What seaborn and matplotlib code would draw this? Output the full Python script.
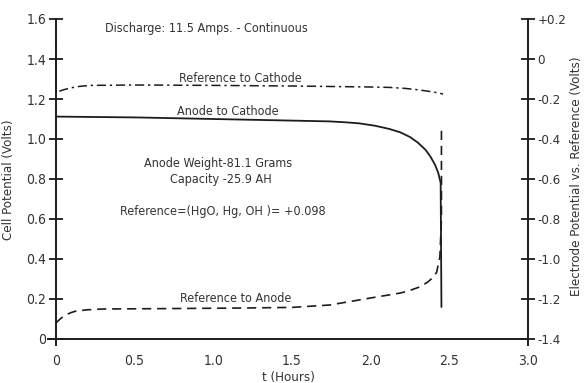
import matplotlib
matplotlib.use("Agg")
import matplotlib.pyplot as plt
import seaborn as sns
import pandas as pd

# ---------------- data ----------------
t_anode_cathode = [0.0, 0.5, 1.0, 1.5, 1.74, 1.85, 1.93, 2.03, 2.12, 2.19, 2.25, 2.30,
                   2.35, 2.38, 2.41, 2.43, 2.445, 2.45]
v_anode_cathode = [1.112, 1.108, 1.100, 1.092, 1.088, 1.083, 1.078, 1.066, 1.050, 1.033,
                   1.010, 0.982, 0.945, 0.912, 0.870, 0.830, 0.780, 0.160]

t_ref_cathode = [0.0, 0.0, 0.04, 0.09, 0.15, 0.22, 0.5, 1.0, 1.5, 2.0, 2.12, 2.22, 2.31, 2.40, 2.46]
v_ref_cathode = [1.50, 1.232, 1.244, 1.255, 1.263, 1.268, 1.270, 1.268, 1.265, 1.260, 1.258,
                 1.253, 1.245, 1.235, 1.225]

t_ref_anode = [0.0, 0.03, 0.06, 0.1, 0.13, 0.2, 0.3, 0.7, 1.2, 1.5, 1.74, 2.0, 2.19, 2.25,
               2.31, 2.36, 2.40, 2.42, 2.44, 2.45, 2.45]
v_ref_anode = [0.080, 0.102, 0.120, 0.133, 0.140, 0.146, 0.150, 0.152, 0.155, 0.158, 0.170,
               0.205, 0.230, 0.243, 0.260, 0.283, 0.310, 0.335, 0.410, 0.600, 1.070]

x_ticks = [0, 0.5, 1.0, 1.5, 2.0, 2.5, 3.0]
x_tick_labels = ["0", "0.5", "1.0", "1.5", "2.0", "2.5", "3.0"]
left_ticks = [0, 0.2, 0.4, 0.6, 0.8, 1.0, 1.2, 1.4, 1.6]
left_tick_labels = ["0", "0.2", "0.4", "0.6", "0.8", "1.0", "1.2", "1.4", "1.6"]
right_ticks = [-1.4, -1.2, -1.0, -0.8, -0.6, -0.4, -0.2, 0.0, 0.2]
right_tick_labels = ["-1.4", "-1.2", "-1.0", "-0.8", "-0.6", "-0.4", "-0.2", "0", "+0.2"]

# ---------------- style ----------------
sns.set_style("white")
plt.rcParams["font.family"] = ["DejaVu Sans"]
plt.rcParams["font.stretch"] = "condensed"
plt.rcParams["axes.unicode_minus"] = False
ink = "#1c1c1c"
txt = "#333333"

fig = plt.figure(figsize=(5.84, 3.83), dpi=100)
ax = fig.add_axes([48 / 584, 1 - 345 / 383, 480 / 584, 330 / 383])

df_ac = pd.DataFrame({"t": t_anode_cathode, "v": v_anode_cathode})
df_rc = pd.DataFrame({"t": t_ref_cathode, "v": v_ref_cathode})
df_ra = pd.DataFrame({"t": t_ref_anode, "v": v_ref_anode})

sns.lineplot(data=df_ac, x="t", y="v", ax=ax, sort=False, estimator=None,
             color=ink, lw=1.3, linestyle="-")
sns.lineplot(data=df_rc, x="t", y="v", ax=ax, sort=False, estimator=None,
             color=ink, lw=1.1, linestyle=(0, (6, 2.5, 1.5, 2.5)))
sns.lineplot(data=df_ra, x="t", y="v", ax=ax, sort=False, estimator=None,
             color=ink, lw=1.2, linestyle=(0, (5.5, 3.5)))

ax.set_xlim(-0.05, 3.0)
ax.set_ylim(-0.03, 1.62)

for s in ["top", "right"]:
    ax.spines[s].set_visible(False)
ax.spines["left"].set_position(("data", 0))
ax.spines["bottom"].set_position(("data", 0))
ax.spines["left"].set_bounds(-0.03, 1.6)
ax.spines["bottom"].set_bounds(-0.05, 3.0)
for s in ["left", "bottom"]:
    ax.spines[s].set_color(ink)
    ax.spines[s].set_linewidth(1.4)

ax.set_xticks(x_ticks)
ax.set_xticklabels(x_tick_labels)
ax.set_yticks(left_ticks)
ax.set_yticklabels(left_tick_labels)
ax.tick_params(axis="both", direction="inout", length=10, width=1.3, color=ink,
               labelsize=10, labelcolor=txt)
ax.tick_params(axis="x", pad=6)
ax.tick_params(axis="y", pad=2)
ax.set_xlabel("t (Hours)", fontsize=9.5, color=txt, labelpad=2)
ax.set_ylabel("Cell Potential (Volts)", fontsize=9.5, color=txt, labelpad=8)

ax2 = ax.twinx()
ax2.set_position(ax.get_position())
ax2.set_ylim(-1.43, 0.22)
for s in ["top", "left", "bottom"]:
    ax2.spines[s].set_visible(False)
ax2.spines["right"].set_bounds(-1.43, 0.2)
ax2.spines["right"].set_color(ink)
ax2.spines["right"].set_linewidth(1.4)
ax2.set_yticks(right_ticks)
ax2.set_yticklabels(right_tick_labels)
ax2.tick_params(axis="y", direction="inout", length=10, width=1.3, color=ink,
                labelsize=9.5, labelcolor=txt, pad=2)
ax2.set_ylabel("Electrode Potential vs. Reference (Volts)", fontsize=9.5, color=txt)
ax2.yaxis.set_label_coords((570 - 48) / 480, 0.51)

tk = dict(color=txt, fontsize=9)
ax.text(0.31, 1.555, "Discharge: 11.5 Amps. - Continuous", ha="left", va="center", **tk)
ax.text(1.17, 1.305, "Reference to Cathode", ha="center", va="center", **tk)
ax.text(1.09, 1.14, "Anode to Cathode", ha="center", va="center", **tk)
ax.text(1.03, 0.88, "Anode Weight-81.1 Grams", ha="center", va="center", **tk)
ax.text(1.05, 0.795, "Capacity -25.9 AH", ha="center", va="center", **tk)
ax.text(0.41, 0.635, "Reference=(HgO, Hg, OH )= +0.098", ha="left", va="center", **tk)
ax.text(1.14, 0.20, "Reference to Anode", ha="center", va="center", **tk)

fig.savefig("out.png", dpi=100)
